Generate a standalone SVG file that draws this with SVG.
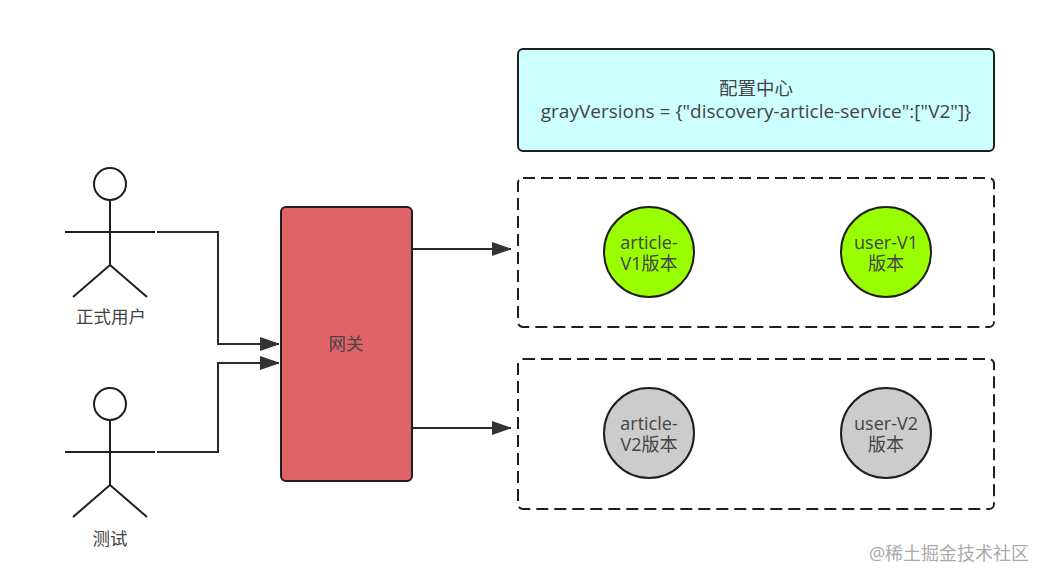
<svg xmlns="http://www.w3.org/2000/svg" width="1048" height="582" viewBox="0 0 1048 582">
<style>
text{font-family:"Open Sans","Noto Sans CJK SC",sans-serif;font-size:18px;fill:#444;text-anchor:middle}
.stk{fill:none;stroke:#1f1f1f;stroke-width:2}
.conn{fill:none;stroke:#2b2b2b;stroke-width:2}
.box{stroke:#1f1f1f;stroke-width:2}
.dash{fill:none;stroke:#1f1f1f;stroke-width:2;stroke-dasharray:12 6}
.circ{stroke:#1f1f1f;stroke-width:2}
.cjk{font-size:17.5px}
</style>
<defs>
<marker id="arr" markerUnits="userSpaceOnUse" markerWidth="20" markerHeight="14" refX="19" refY="7" orient="auto"><path d="M0,0L19,6.5L19,7.5L0,14Z" fill="#333"/></marker>
<g id="actor">
<circle cx="110" cy="184" r="16" class="stk"/>
<path class="stk" d="M110,200V265M65,232H155M110,265L73,297M110,265L147,297"/>
</g>
</defs>
<rect width="1048" height="582" fill="#fff"/>
<g id="connectors">
<path class="conn" d="M157,232H218V344H279" marker-end="url(#arr)"/>
<path class="conn" d="M157,452H218V363H279" marker-end="url(#arr)"/>
<path class="conn" d="M412,249H511" marker-end="url(#arr)"/>
<path class="conn" d="M412,428H511" marker-end="url(#arr)"/>
</g>
<g id="user-formal"><use href="#actor"/><text class="cjk" x="111" y="323">正式用户</text></g>
<g id="user-test"><use href="#actor" y="220"/><text class="cjk" x="110" y="545">测试</text></g>
<g id="gateway"><rect class="box" x="281" y="207" width="131" height="274" rx="5" fill="#e06367"/><text class="cjk" x="346" y="350">网关</text></g>
<g id="config"><rect class="box" x="518" y="49" width="476" height="102" rx="5" fill="#ccffff"/>
<text style="font-size:19px"><tspan x="756" y="95" style="font-size:18.5px">配置中心</tspan><tspan x="756" y="118">grayVersions = {"discovery-article-service":["V2"]}</tspan></text></g>
<g id="group-v1"><rect class="dash" x="518" y="178" width="476" height="149" rx="5"/></g>
<g id="group-v2"><rect class="dash" x="518" y="359" width="476" height="150" rx="5"/></g>
<g id="article-v1"><circle class="circ" cx="649" cy="252" r="45" fill="#99ff00"/><text><tspan x="649" y="249">article-</tspan><tspan x="649" y="270">V1版本</tspan></text></g>
<g id="user-v1"><circle class="circ" cx="886" cy="252" r="45" fill="#99ff00"/><text><tspan x="886" y="249">user-V1</tspan><tspan x="886" y="270">版本</tspan></text></g>
<g id="article-v2"><circle class="circ" cx="649" cy="433" r="45" fill="#cccccc"/><text><tspan x="649" y="430">article-</tspan><tspan x="649" y="451">V2版本</tspan></text></g>
<g id="user-v2"><circle class="circ" cx="886" cy="433" r="45" fill="#cccccc"/><text><tspan x="886" y="430">user-V2</tspan><tspan x="886" y="451">版本</tspan></text></g>
<text id="watermark" x="949" y="560" style="font-size:18px;fill:#aaa">@稀土掘金技术社区</text>
</svg>
